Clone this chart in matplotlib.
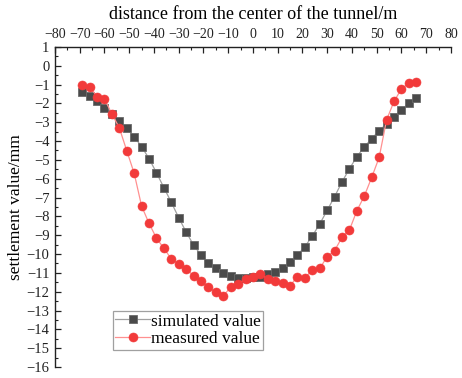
import numpy as np
import matplotlib
matplotlib.use("Agg")
from matplotlib import pyplot as plt
from matplotlib.ticker import MultipleLocator

# distance from tunnel centre (m)
dist = list(range(-69, 67, 3))

simulated = [-1.37, -1.62, -1.88, -2.22, -2.56, -2.95, -3.32, -3.77, -4.30, -4.93,
             -5.68, -6.47, -7.25, -8.07, -8.83, -9.52, -10.05, -10.49, -10.76, -10.99,
             -11.16, -11.25, -11.25, -11.24, -11.20, -11.08, -10.96, -10.73, -10.44, -10.05,
             -9.61, -9.04, -8.40, -7.68, -6.95, -6.17, -5.47, -4.83, -4.31, -3.87,
             -3.45, -3.09, -2.70, -2.35, -1.99, -1.73]

measured = [-1.02, -1.11, -1.64, -1.76, -2.56, -3.30, -4.51, -5.71, -7.45, -8.37,
            -9.15, -9.70, -10.25, -10.53, -10.80, -11.15, -11.42, -11.77, -12.03, -12.21,
            -11.77, -11.57, -11.34, -11.20, -11.06, -11.33, -11.43, -11.56, -11.68, -11.20,
            -11.26, -10.85, -10.76, -10.14, -9.82, -9.11, -8.72, -7.70, -6.92, -5.93,
            -4.87, -2.88, -1.90, -1.23, -0.93, -0.88]

plt.rcParams['font.family'] = ['Liberation Serif', 'DejaVu Serif']
plt.rcParams['axes.unicode_minus'] = True

fig = plt.figure(figsize=(4.62, 3.78), dpi=100)
ax = fig.add_axes([0.119, 0.029, 0.857, 0.847])

ax.plot(dist, simulated, '-s', color='#a0a0a0', lw=0.9, ms=5.5,
        markerfacecolor='#4a4a4a', markeredgecolor='#6a6a6a', markeredgewidth=0.6,
        label='simulated value')
ax.plot(dist, measured, '-o', color='#ff9090', lw=0.9, ms=6.5,
        markerfacecolor='#f23a3a', markeredgecolor='#f23a3a', markeredgewidth=0.4,
        label='measured value')

ax.set_xlim(-80, 80)
ax.set_ylim(-16, 1)
ax.xaxis.set_major_locator(MultipleLocator(10))
ax.xaxis.set_minor_locator(MultipleLocator(5))
ax.yaxis.set_major_locator(MultipleLocator(1))
ax.yaxis.set_minor_locator(MultipleLocator(0.5))

ax.xaxis.tick_top()
ax.xaxis.set_label_position('top')
ax.spines['right'].set_visible(False)
ax.spines['bottom'].set_visible(False)
for s in ('top', 'left'):
    ax.spines[s].set_linewidth(1.0)
    ax.spines[s].set_color('#222222')

ax.tick_params(which='both', direction='in', colors='#222222',
               top=True, bottom=False, left=True, right=False)
ax.tick_params(axis='x', labelsize=10)
ax.tick_params(axis='y', labelsize=10.5)
ax.tick_params(which='major', length=4, width=0.9, pad=4)
ax.tick_params(which='minor', length=2.2, width=0.8)

ax.set_xlabel('distance from the center of the tunnel/m', fontsize=13, labelpad=7)
ax.set_ylabel('settlement value/mm', fontsize=12.5, labelpad=2)

leg = ax.legend(loc='lower left', bbox_to_anchor=(0.146, 0.053), borderaxespad=0,
                fontsize=12.5, frameon=True, fancybox=False, handlelength=2.0,
                handletextpad=0.05, borderpad=0.15, labelspacing=0.1)
leg.get_frame().set_edgecolor('#888888')
leg.get_frame().set_linewidth(0.9)

fig.savefig('out.png', dpi=100)
